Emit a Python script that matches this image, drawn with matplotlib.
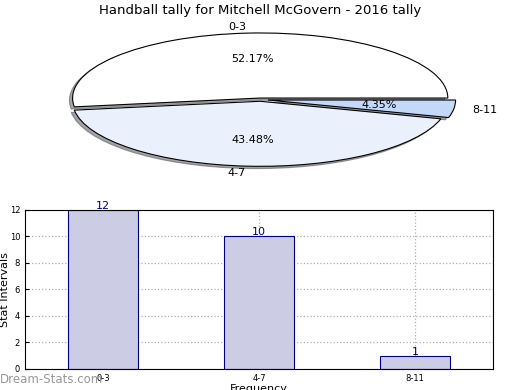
import matplotlib
matplotlib.use("Agg")
import matplotlib.pyplot as plt

categories = ["0-3", "4-7", "8-11"]
counts = [12, 10, 1]
pie_colors = ["#ffffff", "#eaf1fd", "#c4d8f8"]
title = "Handball tally for Mitchell McGovern - 2016 tally"

fig = plt.figure(figsize=(5.2, 3.9), dpi=100)

ax1 = fig.add_axes([0.05, 0.536, 0.902, 0.417])
wedges, texts, autotexts = ax1.pie(
    counts, labels=categories, colors=pie_colors, autopct="%.2f%%",
    explode=(0.025, 0.025, 0.04), shadow={"ox": -0.012, "oy": -0.025},
    startangle=0, labeldistance=1.1, pctdistance=0.6,
    wedgeprops=dict(edgecolor="black", linewidth=0.8),
    textprops=dict(fontsize=8))
ax1.set_aspect("auto")
ax1.set_xlim(-1.25, 1.25)
ax1.set_ylim(-1.25, 1.25)
fig.text(0.5, 0.973, title, ha="center", va="center", fontsize=9.5)

ax2 = fig.add_axes([0.048, 0.054, 0.9, 0.408])
x = list(range(len(categories)))
bars = ax2.bar(x, counts, width=0.45, color="#ccccE4", edgecolor="#000080", linewidth=0.8, zorder=2)
ax2.set_xlim(-0.5, 2.5)
ax2.set_ylim(0, 12)
ax2.set_yticks(range(0, 13, 2))
ax2.set_xticks(x)
ax2.set_xticklabels(categories)
ax2.tick_params(labelsize=6, direction="in", length=3)
ax2.grid(True, linestyle=":", color="#b0b0b0", linewidth=0.9, zorder=0)
ax2.set_axisbelow(True)
for xi, c in zip(x, counts):
    ax2.annotate(str(c), (xi, c), xytext=(0, 3), textcoords="offset points",
                 ha="center", va="center", color="#000080", fontsize=8,
                 annotation_clip=False)
ax2.set_xlabel("Frequency", fontsize=8, labelpad=1)
ax2.set_ylabel("Stat Intervals", fontsize=8)
ax2.yaxis.set_label_coords(-0.032, 0.5)

fig.text(0.0, 0.026, "Dream-Stats.com", ha="left", va="center", fontsize=8.5, color="#999999")

fig.savefig("out.png", dpi=100)
